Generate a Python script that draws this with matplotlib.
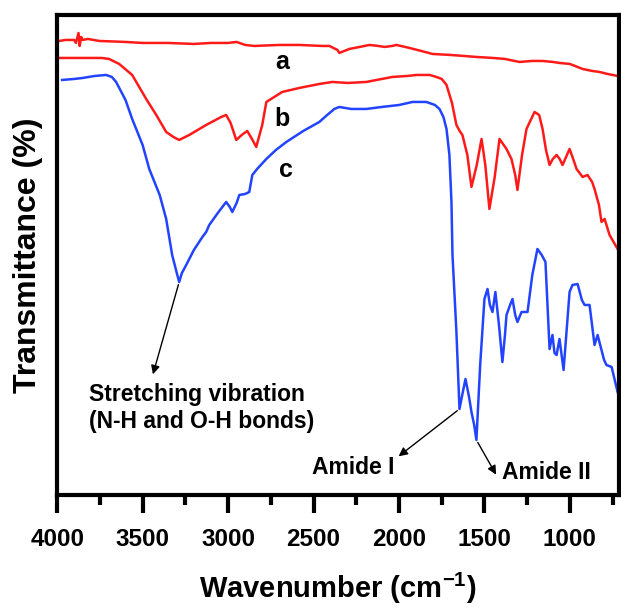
import matplotlib
matplotlib.use("Agg")
import matplotlib.pyplot as plt
import numpy as np

plt.rcParams['font.family'] = ['Liberation Sans', 'DejaVu Sans']
plt.rcParams['font.weight'] = 'bold'
plt.rcParams['mathtext.fontset'] = 'custom'
plt.rcParams['mathtext.rm'] = 'Liberation Sans:bold'
plt.rcParams['mathtext.bf'] = 'Liberation Sans:bold'
plt.rcParams['mathtext.default'] = 'bf'

# Curve a (top, red)
wn_a = [3988, 3950, 3900, 3890, 3875, 3868, 3860, 3850, 3820, 3754, 3600, 3500, 3350, 3200, 3100, 3000,
        2950, 2900, 2847, 2700, 2583, 2450, 2407, 2360, 2349, 2320, 2290, 2230, 2173, 2120, 2085, 2040,
        2015, 1939, 1870, 1804, 1700, 1620, 1547, 1450, 1380, 1295, 1220, 1160, 1100, 1061, 1000, 926,
        870, 827, 780, 721]
t_a = [454, 455, 455, 452, 462, 449, 458, 455, 456, 454, 453, 452, 452, 451, 452, 452,
       453, 450, 449, 450, 450, 449, 449, 445, 442, 444, 446, 448, 450, 449, 448, 449,
       450, 447, 444, 441, 440, 439, 438, 437, 436, 433, 434, 434, 433, 432, 431, 426,
       424, 423, 421, 419]

# Curve b (middle, red)
wn_b = [3988, 3900, 3800, 3740, 3696, 3637, 3561, 3479, 3420, 3362, 3320, 3286, 3227, 3128, 3040, 3011,
        2985, 2952, 2920, 2888, 2860, 2835, 2800, 2776, 2683, 2583, 2466, 2390, 2300, 2191, 2100, 2039,
        1950, 1898, 1820, 1781, 1750, 1722, 1690, 1664, 1645, 1629, 1600, 1576, 1545, 1517, 1495, 1471,
        1440, 1412, 1371, 1342, 1320, 1307, 1280, 1254, 1207, 1180, 1160, 1140, 1119, 1100, 1078, 1060,
        1043, 1002, 985, 961, 926, 897, 870, 856, 830, 815, 797, 768, 721]
t_b = [437, 437, 437, 437, 436, 431, 420, 396, 380, 363, 358, 355, 360, 370, 378, 380,
       372, 355, 360, 364, 356, 348, 370, 393, 403, 407, 411, 413, 412, 413, 416, 418,
       419, 420, 420, 418, 416, 410, 392, 370, 364, 360, 340, 308, 330, 356, 330, 286,
       318, 356, 346, 336, 320, 305, 340, 366, 383, 380, 366, 345, 330, 336, 340, 336,
       330, 346, 338, 326, 318, 320, 313, 306, 290, 273, 276, 260, 246]

# Curve c (bottom, blue)
wn_c = [3971, 3900, 3850, 3780, 3713, 3680, 3655, 3600, 3561, 3500, 3461, 3400, 3362, 3327, 3300, 3286,
        3270, 3245, 3200, 3150, 3128, 3110, 3060, 3011, 2990, 2975, 2950, 2934, 2900, 2876, 2858, 2830,
        2776, 2720, 2659, 2560, 2466, 2420, 2378, 2349, 2280, 2191, 2100, 1998, 1921, 1840, 1790, 1763,
        1740, 1722, 1705, 1693, 1687, 1675, 1664, 1646, 1630, 1611, 1590, 1576, 1560, 1547, 1525, 1500,
        1482, 1468, 1453, 1436, 1415, 1395, 1380, 1371, 1350, 1336, 1320, 1307, 1283, 1248, 1220, 1190,
        1165, 1143, 1119, 1102, 1090, 1078, 1061, 1037, 1002, 985, 955, 930, 914, 885, 856, 838,
        800, 786, 756, 721]
t_c = [415, 416, 417, 419, 420, 418, 413, 395, 376, 350, 326, 300, 276, 240, 222, 213,
       222, 230, 245, 258, 263, 270, 282, 293, 288, 283, 292, 300, 301, 303, 320, 326,
       336, 345, 353, 364, 373, 380, 386, 388, 386, 386, 388, 390, 393, 393, 390, 386,
       378, 366, 340, 293, 240, 200, 163, 86, 100, 116, 98, 83, 70, 55, 130, 196,
       206, 190, 183, 203, 170, 133, 160, 180, 190, 196, 180, 173, 183, 183, 220, 246,
       240, 233, 146, 160, 142, 140, 156, 125, 203, 210, 211, 195, 190, 190, 150, 160,
       135, 130, 128, 103]

fig = plt.figure(figsize=(6.21, 6.10), dpi=100)
ax = fig.add_axes([0.092, 0.1885, 0.905, 0.787])

red = '#FF1A1A'
blue = '#2244FF'
ax.plot(wn_a, t_a, color=red, lw=1.8)
ax.plot(wn_b, t_b, color=red, lw=1.8)
ax.plot(wn_c, t_c, color=blue, lw=1.8)

ax.set_xlim(4000, 712)
ax.set_ylim(0, 480)
ax.set_xticks([4000, 3500, 3000, 2500, 2000, 1500, 1000])
ax.set_xticks(np.arange(3750, 712, -500), minor=True)
ax.set_yticks([])
for s in ax.spines.values():
    s.set_linewidth(3)
ax.tick_params(axis='x', which='major', direction='out', length=13, width=3,
               labelsize=17.5, pad=11)
ax.tick_params(axis='x', which='minor', direction='out', length=7, width=3)
for lbl in ax.get_xticklabels():
    lbl.set_fontweight('bold')

ax.set_xlabel('Wavenumber (cm$^{-1}$)', fontsize=21, fontweight='bold', labelpad=14)
ax.set_ylabel('Transmittance (%)', fontsize=23, fontweight='bold', labelpad=10)

ax.text(2683, 433, 'a', fontsize=18, fontweight='bold', ha='center', va='center')
ax.text(2683, 376, 'b', fontsize=18, fontweight='bold', ha='center', va='center')
ax.text(2659, 325, 'c', fontsize=18, fontweight='bold', ha='center', va='center')

arrow = dict(arrowstyle='-|>', color='black', lw=1.0, mutation_scale=13)
ax.annotate('', xy=(3444, 118), xytext=(3286, 213), arrowprops=arrow)
ax.text(3813, 87, 'Stretching vibration\n(N-H and O-H bonds)', fontsize=16.5,
        fontweight='bold', ha='left', va='center', linespacing=1.25)

ax.annotate('', xy=(2015, 37), xytext=(1646, 86), arrowprops=arrow)
ax.text(2507, 28, 'Amide I', fontsize=16.5, fontweight='bold', ha='left', va='center')
ax.annotate('', xy=(1424, 18), xytext=(1547, 55), arrowprops=arrow)
ax.text(1400, 23, 'Amide II', fontsize=16.5, fontweight='bold', ha='left', va='center')

fig.savefig('out.png', dpi=100)
